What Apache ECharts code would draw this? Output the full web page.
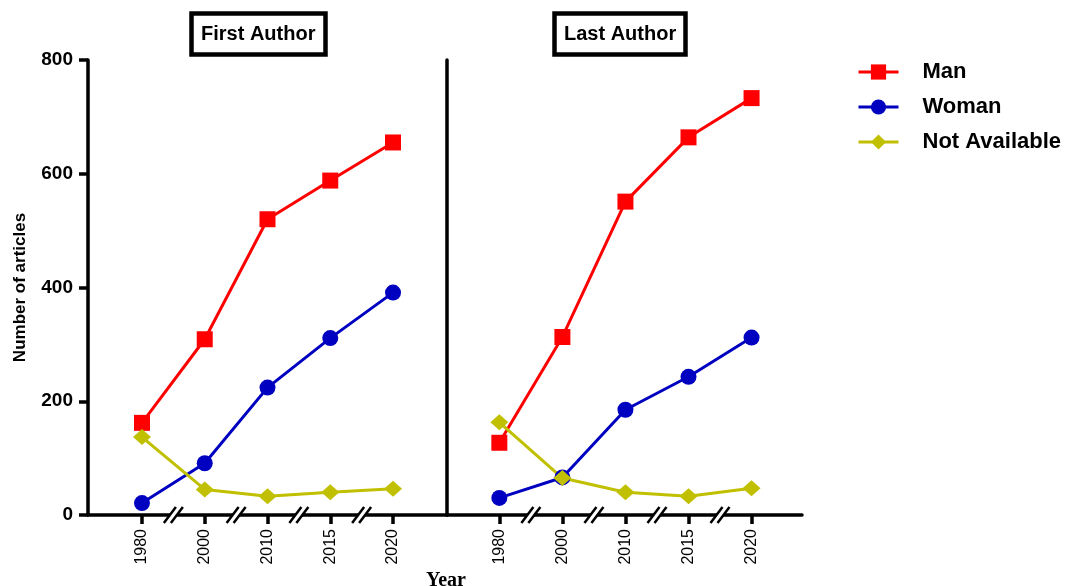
<!DOCTYPE html>
<html>
<head>
<meta charset="utf-8">
<script src="https://cdn.jsdelivr.net/npm/echarts@6/dist/echarts.min.js"></script>
<style>
html,body{margin:0;padding:0;background:#fff;}
#chart{width:1070px;height:586px;}
</style>
</head>
<body>
<div id="chart"></div>
<script>
const years = ['1980', '2000', '2010', '2015', '2020'];
const yTicks = [0, 200, 400, 600, 800];
const firstMan = [162, 309, 520, 588, 655];
const firstWoman = [21, 91, 224, 311, 391];
const firstNA = [137, 45, 33, 40, 46];
const lastMan = [127, 313, 551, 664, 733];
const lastWoman = [30, 66, 185, 243, 312];
const lastNA = [163, 65, 40, 33, 47];
const breakPositions = [0.5, 1.5, 2.5, 3.5];
const seriesNames = ['Man', 'Woman', 'Not Available'];

const FONT = '"Liberation Sans", Arial, sans-serif';
const colors = ['#FF0000', '#0000C0', '#C0C000'];
const symbols = ['rect', 'circle', 'diamond'];
const symbolSizes = [16, 16, [18, 16]];
const idx = years.map((_, i) => i);

function xAxisCfg(gridIndex, min, max) {
  return {
    type: 'value', gridIndex, min, max,
    splitLine: { show: false },
    axisLine: { show: true, onZero: false, lineStyle: { color: '#000', width: 3.5 } },
    axisTick: { show: true, customValues: idx, length: 9, lineStyle: { color: '#000', width: 3.5 } },
    axisLabel: {
      customValues: idx, rotate: 90, margin: 14,
      fontFamily: FONT, fontSize: 16, color: '#000',
      formatter: v => years[Math.round(v)]
    }
  };
}

function yAxisCfg(gridIndex, showLabels) {
  return {
    type: 'value', gridIndex, min: yTicks[0], max: yTicks[yTicks.length - 1], interval: 200,
    splitLine: { show: false },
    axisLine: { show: true, onZero: false, lineStyle: { color: '#000', width: 3.5 } },
    axisTick: { show: showLabels, length: 9, lineStyle: { color: '#000', width: 3.5 } },
    axisLabel: { show: showLabels, margin: 15, fontFamily: FONT, fontSize: 19, fontWeight: 'bold', color: '#000' },
    name: showLabels ? 'Number of articles' : '',
    nameLocation: 'middle', nameRotate: 90, nameGap: 59,
    nameTextStyle: { fontFamily: FONT, fontSize: 17, fontWeight: 'bold', color: '#000' }
  };
}

function lineSeries(gi, values, k) {
  return {
    type: 'line', name: seriesNames[k], xAxisIndex: gi, yAxisIndex: gi,
    data: values.map((v, i) => [i, v]),
    symbol: symbols[k], symbolSize: symbolSizes[k],
    color: colors[k],
    lineStyle: { color: colors[k], width: 3 },
    itemStyle: { color: colors[k], borderWidth: 0 },
    z: 3
  };
}

function breakSeries(gi) {
  return {
    type: 'custom', xAxisIndex: gi, yAxisIndex: gi, clip: false, z: 6, silent: true,
    data: breakPositions.map(b => [b, yTicks[0]]),
    renderItem: function (params, api) {
      const p = api.coord([api.value(0), api.value(1)]);
      const x = p[0], y = p[1];
      const dx = 6, dy = 8, off = 3.5;
      return {
        type: 'group',
        children: [
          { type: 'polygon', shape: { points: [[x - off - dx, y + dy], [x - off + dx, y - dy], [x + off + dx, y - dy], [x + off - dx, y + dy]] }, style: { fill: '#fff' } },
          { type: 'line', shape: { x1: x - off - dx, y1: y + dy, x2: x - off + dx, y2: y - dy }, style: { stroke: '#000', lineWidth: 2.5 } },
          { type: 'line', shape: { x1: x + off - dx, y1: y + dy, x2: x + off + dx, y2: y - dy }, style: { stroke: '#000', lineWidth: 2.5 } }
        ]
      };
    }
  };
}

const chart = echarts.init(document.getElementById('chart'), null, { renderer: 'canvas' });
chart.setOption({
  backgroundColor: '#fff',
  animation: false,
  title: [
    { text: 'First Author', left: 191, top: 13, borderWidth: 4.5, borderColor: '#000', padding: [11, 10],
      textStyle: { fontFamily: FONT, fontSize: 20, fontWeight: 'bold', color: '#000' } },
    { text: 'Last Author', left: 554, top: 13, borderWidth: 4.5, borderColor: '#000', padding: [11, 10],
      textStyle: { fontFamily: FONT, fontSize: 20, fontWeight: 'bold', color: '#000' } },
    { text: 'Year', left: 426, top: 571, padding: 0,
      textStyle: { fontFamily: '"Liberation Serif", "Times New Roman", serif', fontSize: 20, fontWeight: 'bold', color: '#000' } }
  ],
  legend: {
    data: seriesNames, orient: 'vertical', left: 852, top: 56,
    itemWidth: 40, itemHeight: 19, itemGap: 13,
    lineStyle: { width: 3 },
    textStyle: { fontFamily: FONT, fontSize: 22, fontWeight: 'bold', color: '#000', padding: [0, 0, 0, 19] }
  },
  grid: [
    { left: 88, top: 60, width: 359, height: 455 },
    { left: 447, top: 60, width: 355, height: 455 }
  ],
  xAxis: [xAxisCfg(0, -0.86, 4.86), xAxisCfg(1, -0.83, 4.8)],
  yAxis: [yAxisCfg(0, true), yAxisCfg(1, false)],
  series: [
    lineSeries(0, firstMan, 0), lineSeries(0, firstWoman, 1), lineSeries(0, firstNA, 2),
    lineSeries(1, lastMan, 0), lineSeries(1, lastWoman, 1), lineSeries(1, lastNA, 2),
    breakSeries(0), breakSeries(1)
  ]
});
</script>
</body>
</html>
